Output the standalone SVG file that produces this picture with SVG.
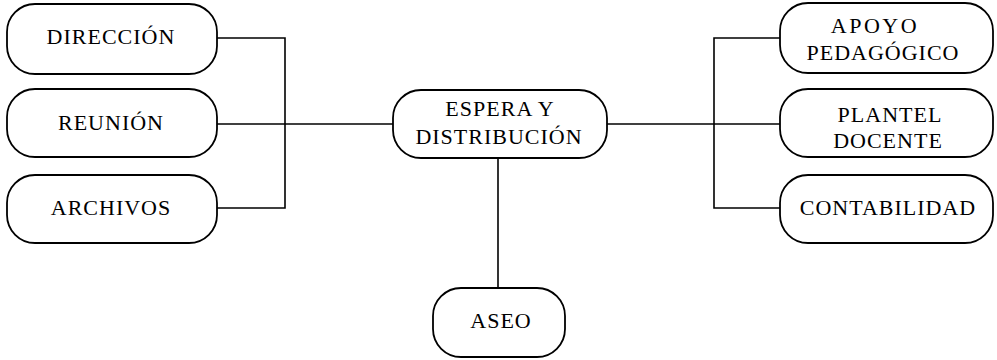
<svg xmlns="http://www.w3.org/2000/svg" width="997" height="360" viewBox="0 0 997 360">
<style>
.box{fill:#fff;stroke:#000;stroke-width:1.8}
.t{font-family:"Liberation Serif","Times New Roman",serif;font-size:22px;letter-spacing:1px;text-anchor:middle;fill:#000}
.c{fill:none;stroke:#000;stroke-width:1.6}
</style>
<rect width="997" height="360" fill="#fff"/>
<g id="connectors">
<polyline class="c" points="217,38 285,38 285,208 217,208"/>
<line class="c" x1="217" y1="124" x2="393" y2="124"/>
<polyline class="c" points="780,38 714,38 714,208 780,208"/>
<line class="c" x1="607" y1="124" x2="780" y2="124"/>
<line class="c" x1="498" y1="158" x2="498" y2="288"/>
</g>
<g id="direccion"><rect class="box" x="7" y="4" width="210" height="70" rx="28"/><text class="t" x="111" y="44">DIRECCIÓN</text></g>
<g id="reunion"><rect class="box" x="7" y="89" width="210" height="68" rx="28"/><text class="t" x="111" y="130">REUNIÓN</text></g>
<g id="archivos"><rect class="box" x="7" y="175" width="210" height="68" rx="28"/><text class="t" x="111" y="215">ARCHIVOS</text></g>
<g id="espera"><rect class="box" x="393" y="90" width="214" height="68" rx="28"/><text class="t" x="500" y="116">ESPERA Y</text><text class="t" x="499" y="144">DISTRIBUCIÓN</text></g>
<g id="aseo"><rect class="box" x="433" y="288" width="132" height="69" rx="28"/><text class="t" x="501" y="328">ASEO</text></g>
<g id="apoyo"><rect class="box" x="780" y="3" width="213" height="70" rx="28"/><text class="t" x="875" y="33" style="letter-spacing:2.5px">APOYO</text><text class="t" x="883" y="60">PEDAGÓGICO</text></g>
<g id="plantel"><rect class="box" x="780" y="89" width="213" height="68" rx="28"/><text class="t" x="890" y="122">PLANTEL</text><text class="t" x="888" y="148">DOCENTE</text></g>
<g id="contabilidad"><rect class="box" x="780" y="175" width="213" height="68" rx="28"/><text class="t" x="888" y="215">CONTABILIDAD</text></g>
</svg>
